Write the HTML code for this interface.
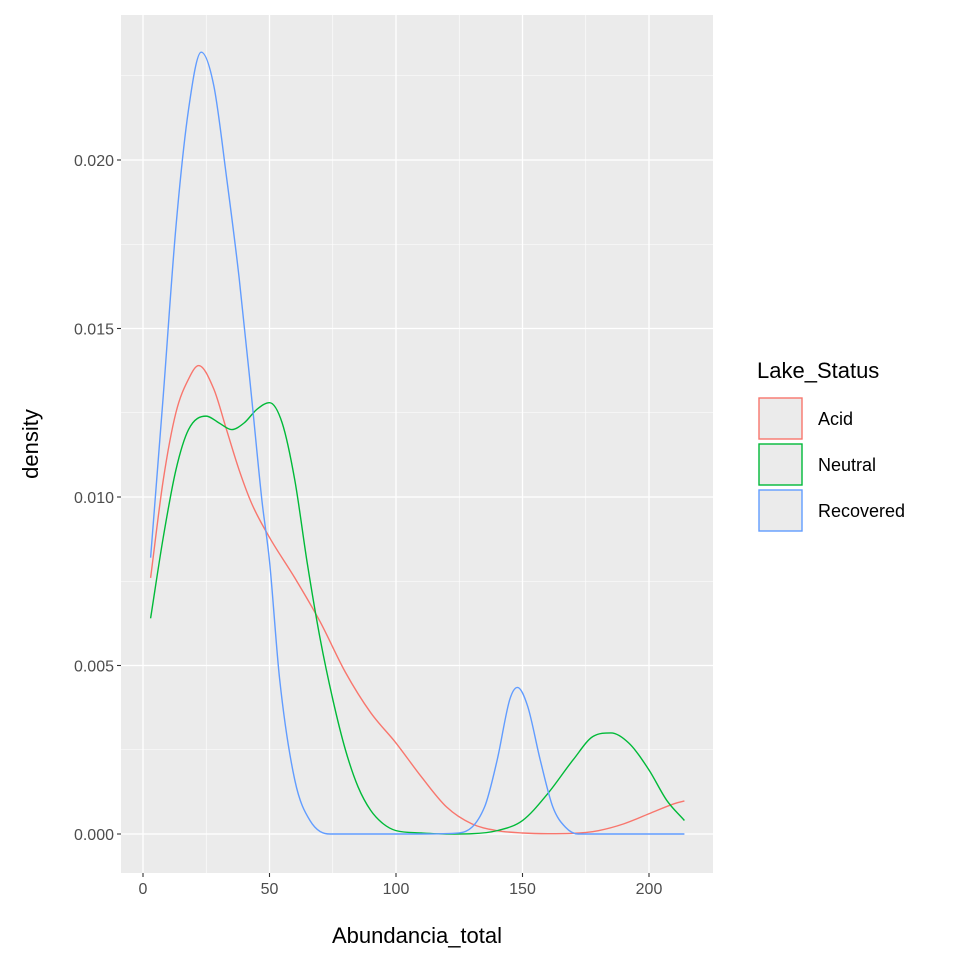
<!DOCTYPE html>
<html><head><meta charset="utf-8"><style>body{margin:0;background:#fff}svg{display:block;font-family:"Liberation Sans",sans-serif}</style></head>
<body>
<svg id="c" width="960" height="960" viewBox="0 0 960 960"></svg>
<script>
const seriesNames=["Acid","Neutral","Recovered"];
const seriesColors=["#F8766D","#00BA38","#619CFF"];
const acidX=[3,8,13,18,22,28,33,38,43,50,60,70,80,90,100,110,120,130,140,150,160,170,180,190,200,210,214];
const acidY=[0.0076,0.0105,0.0125,0.0135,0.0139,0.0132,0.0120,0.0108,0.0098,0.0088,0.0076,0.0063,0.0048,0.0036,0.0027,0.0017,0.0008,0.0003,0.0001,0.00003,0.00001,0.00002,0.0001,0.0003,0.0006,0.0009,0.00098];
const neutralX=[3,8,13,18,25,30,35,40,45,50,55,60,65,70,75,80,85,90,95,100,110,120,130,140,150,160,170,178,185,192,200,207,214];
const neutralY=[0.0064,0.0088,0.0108,0.0120,0.0124,0.0122,0.0120,0.0122,0.0126,0.0128,0.0122,0.0105,0.0080,0.0058,0.0040,0.0025,0.0014,0.0007,0.0003,0.0001,0.00003,0,0.00001,0.0001,0.0004,0.0012,0.0022,0.0029,0.0030,0.0027,0.0019,0.0010,0.0004];
const recX=[3,8,13,18,23,28,33,38,43,47,50,54,60,66,74,90,110,125,135,140,145,148,152,157,162,167,172,190,214];
const recY=[0.0082,0.0130,0.0180,0.0215,0.0232,0.0222,0.0195,0.0165,0.0129,0.0099,0.0081,0.0046,0.0016,0.0004,0,0,0,0.00003,0.0008,0.0022,0.0040,0.00435,0.0038,0.0022,0.0008,0.0002,0,0,0];
const xTicks=[0,50,100,150,200];
const yTicks=[0,0.005,0.010,0.015,0.020];
const yTickLabels=["0.000","0.005","0.010","0.015","0.020"];
const NS="http://www.w3.org/2000/svg",svg=document.getElementById('c');
const P={l:121,r:713,t:15,b:873};
const sx=v=>143+(v-0)*(649-143)/200;
const sy=v=>834-v*(834-160)/0.020;
function mk(t,a,p){const e=document.createElementNS(NS,t);for(const k in a)e.setAttribute(k,a[k]);(p||svg).appendChild(e);return e;}
let bg=mk('rect',{x:P.l,y:P.t,width:P.r-P.l,height:P.b-P.t,fill:'#EBEBEB'});


const g=mk('g',{});


for(let i=0;i<xTicks.length-1;i++){const v=(xTicks[i]+xTicks[i+1])/2;mk('line',{x1:sx(v),x2:sx(v),y1:P.t,y2:P.b,stroke:'#fff','stroke-width':0.6},g);}
for(let i=0;i<yTicks.length-1;i++){const v=(yTicks[i]+yTicks[i+1])/2;mk('line',{x1:P.l,x2:P.r,y1:sy(v),y2:sy(v),stroke:'#fff','stroke-width':0.6},g);}
mk('line',{x1:P.l,x2:P.r,y1:sy(0.0225),y2:sy(0.0225),stroke:'#fff','stroke-width':0.6},g);
xTicks.forEach(v=>{mk('line',{x1:sx(v),x2:sx(v),y1:P.t,y2:P.b,stroke:'#fff','stroke-width':1.3},g);
 mk('line',{x1:sx(v),x2:sx(v),y1:P.b,y2:P.b+4,stroke:'#333','stroke-width':1.1});
 const t=mk('text',{x:sx(v),y:P.b+21,'text-anchor':'middle','font-size':16,fill:'#4D4D4D'});t.textContent=v;
 
 });
yTicks.forEach((v,i)=>{mk('line',{x1:P.l,x2:P.r,y1:sy(v),y2:sy(v),stroke:'#fff','stroke-width':1.3},g);
 mk('line',{x1:P.l-4,x2:P.l,y1:sy(v),y2:sy(v),stroke:'#333','stroke-width':1.1});
 const t=mk('text',{x:P.l-7,y:sy(v)+6,'text-anchor':'end','font-size':16,fill:'#4D4D4D'});t.textContent=yTickLabels[i];
 
 });
function pathD(xs,ys){const p=xs.map((x,i)=>[sx(x),sy(ys[i])]);const n=p.length;
 const d=[],m=new Array(n);
 for(let i=0;i<n-1;i++)d.push((p[i+1][1]-p[i][1])/(p[i+1][0]-p[i][0]));
 m[0]=d[0];m[n-1]=d[n-2];
 for(let i=1;i<n-1;i++){m[i]=(d[i-1]*d[i]<=0)?0:(d[i-1]+d[i])/2;}
 for(let i=0;i<n-1;i++){if(d[i]===0){m[i]=0;m[i+1]=0;continue;}const a=m[i]/d[i],b=m[i+1]/d[i],s=a*a+b*b;if(s>9){const t=3/Math.sqrt(s);m[i]=t*a*d[i];m[i+1]=t*b*d[i];}}
 let s='M'+p[0][0]+','+p[0][1];
 for(let i=0;i<n-1;i++){const h=(p[i+1][0]-p[i][0])/3;
 s+=` C${p[i][0]+h},${p[i][1]+m[i]*h} ${p[i+1][0]-h},${p[i+1][1]-m[i+1]*h} ${p[i+1][0]},${p[i+1][1]}`;}return s;}
const data=[[acidX,acidY],[neutralX,neutralY],[recX,recY]];
data.forEach((s,i)=>{const e=mk('path',{d:pathD(s[0],s[1]),fill:'none',stroke:seriesColors[i],'stroke-width':1.4});
 
 });
let t=mk('text',{x:417,y:943,'text-anchor':'middle','font-size':22,fill:'#000'});t.textContent='Abundancia_total';


t=mk('text',{x:38,y:444,'text-anchor':'middle','font-size':22,fill:'#000',transform:'rotate(-90 38 444)'});t.textContent='density';


t=mk('text',{x:757,y:378,'font-size':22,fill:'#000'});t.textContent='Lake_Status';


seriesNames.forEach((n,i)=>{const y=397+i*46;
 const r=mk('rect',{x:759,y:y+1,width:43,height:41,fill:'#EBEBEB',stroke:seriesColors[i],'stroke-width':1.4});
 
 
 const l=mk('text',{x:818,y:y+28,'font-size':18,fill:'#000'});l.textContent=n;
 
 });
</script>
</body></html>
